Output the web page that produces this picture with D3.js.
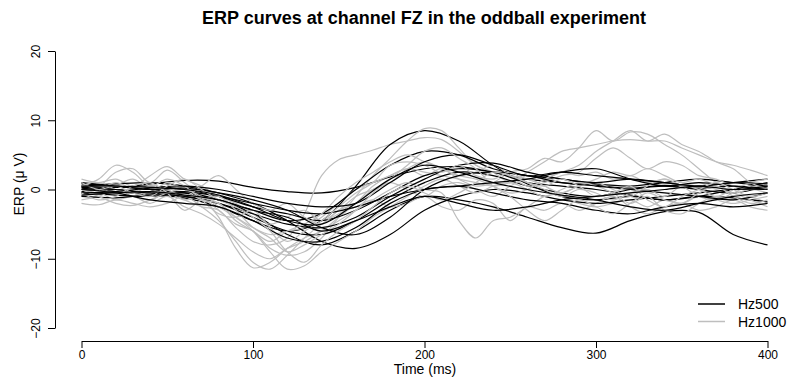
<!DOCTYPE html>
<html><head><meta charset="utf-8">
<script src="https://cdn.jsdelivr.net/npm/d3@7/dist/d3.min.js"></script>
<style>body{margin:0;background:#fff}svg{display:block;font-family:"Liberation Sans",Arial,sans-serif}</style>
</head><body><svg id="c" width="788" height="378"></svg>
<script>
const title = "ERP curves at channel FZ in the oddball experiment";
const xLabel = "Time (ms)";
const yLabel = "ERP (\u03bc V)";
const xTicks = [0,100,200,300,400];
const yTicks = [-20,-10,0,10,20];
const legendLabels = ["Hz500","Hz1000"];
const colors = ["#000000","#bebebe"];

// Hz500 curves sampled every 20 ms (0..400)
const timeHz500 = [0,20,40,60,80,100,120,140,160,180,200,220,240,260,280,300,320,340,360,380,400];
const hz500 = [
 [0.5,0.3,0.8,1.3,1.2,0.3,-0.3,-0.5,0.3,1.8,3.0,3.3,2.5,1.5,1.0,0.6,0.2,0.6,0.2,0.5,0.2],
 [0.2,-0.3,-0.8,-1.2,-2.5,-4.5,-6.0,-4.5,0.5,6.5,8.5,7.0,3.5,0.8,-1.0,-1.5,-1.0,-1.5,-1.0,-1.2,-1.8],
 [-0.5,-0.8,-1.0,-0.5,-1.5,-3.5,-6.5,-8.0,-6.0,-3.0,-1.0,-1.5,-2.5,-4.0,-5.5,-6.3,-4.5,-3.2,-3.3,-6.5,-8.0],
 [0.8,0.5,0.0,-0.5,-1.5,-3.0,-4.5,-3.5,0.0,3.5,5.5,5.0,3.0,2.0,1.5,0.8,0.5,1.0,1.5,1.0,0.5],
 [-0.3,0.0,-0.5,-1.0,-2.0,-4.0,-6.0,-6.5,-4.5,-1.5,1.0,2.5,2.0,0.5,-0.5,-1.0,0.0,0.5,0.0,-0.5,0.5],
 [0.0,0.3,0.5,0.0,-1.0,-2.5,-3.5,-4.5,-3.0,-0.5,2.0,3.0,2.5,1.0,0.5,0.0,-0.8,-1.5,-1.0,0.0,1.0],
 [0.5,0.8,1.0,0.5,-0.5,-2.0,-4.5,-7.5,-8.5,-6.5,-3.0,-1.0,0.0,-0.5,-1.5,-2.0,-1.5,-1.0,-0.5,0.0,0.0],
 [-1.0,-1.2,-0.8,-1.0,-2.0,-3.5,-5.0,-5.5,-4.0,-1.0,1.5,3.5,3.8,2.5,1.5,1.0,1.5,1.0,0.5,1.0,1.5],
 [0.3,0.0,-0.5,-0.3,-1.0,-2.0,-3.0,-3.5,-2.5,-1.0,0.0,0.5,-0.5,-1.5,-2.0,-3.0,-3.5,-2.5,-2.0,-2.5,-2.0],
 [1.0,0.5,0.0,0.2,-0.5,-1.5,-3.0,-5.5,-6.5,-4.0,0.0,2.0,2.5,2.0,1.0,0.5,0.0,-0.5,-1.0,-1.5,-0.5],
 [-0.5,-0.3,0.2,0.5,0.0,-1.0,-2.0,-2.5,-2.0,1.0,4.0,5.0,3.5,2.0,2.5,2.0,1.5,1.0,0.5,1.0,0.8],
 [0.0,-0.5,-1.5,-2.0,-2.5,-4.5,-7.0,-7.5,-5.5,-2.0,0.0,0.5,1.0,1.5,2.5,3.0,1.5,0.5,1.0,0.5,0.0],
 [0.5,0.5,0.3,0.0,-0.8,-2.5,-4.5,-5.0,-2.0,1.5,3.5,2.5,1.0,0.0,-0.8,-1.5,-2.5,-3.0,-2.0,-1.0,-0.5],
 [-0.8,-0.5,-0.3,-0.8,-1.5,-3.0,-4.0,-6.0,-4.5,-2.5,-1.0,-2.0,-3.0,-2.5,-1.5,-1.0,-0.5,0.0,0.5,0.0,0.5]
];

// Hz1000 curves sampled every 10 ms (0..400)
const timeHz1000 = [0,10,20,30,40,50,60,70,80,90,100,110,120,130,140,150,160,170,180,190,200,210,220,230,240,250,260,270,280,290,300,310,320,330,340,350,360,370,380,390,400];
const hz1000 = [
 [1.0,0.5,2.5,3.0,1.0,2.8,1.0,-1.0,-4.0,-8.5,-11.3,-10.5,-8.5,-7.0,-6.0,-4.0,-2.0,0.5,2.0,3.0,2.0,3.0,1.5,0.5,1.0,2.5,3.0,4.5,4.0,6.0,8.5,7.0,8.3,8.0,6.5,5.0,3.0,1.0,-0.5,-1.0,-2.0],
 [-1.5,-1.0,0.0,-1.0,-1.5,-0.5,-1.5,-2.5,-3.0,-5.5,-7.5,-8.0,-7.0,-3.5,2.0,4.3,5.0,5.7,6.5,7.0,7.5,7.2,5.5,3.5,2.5,2.0,1.5,0.5,-1.0,-2.0,-2.5,-2.0,-1.5,-2.5,-1.5,-2.0,-1.0,-1.5,-2.0,-1.5,-1.0],
 [0.0,-0.5,0.5,1.5,0.0,-0.5,0.5,-1.0,-3.0,-5.0,-6.0,-8.5,-9.5,-9.0,-7.0,-4.0,-1.0,2.0,4.5,7.0,8.8,8.5,6.0,3.5,2.5,1.0,2.0,1.5,2.5,2.0,2.5,1.5,2.0,1.0,1.5,0.5,1.0,0.0,-0.5,-1.5,-2.5],
 [0.5,0.0,-0.5,0.0,-1.0,-0.5,-1.5,-1.0,-2.5,-4.0,-5.5,-6.5,-6.0,-5.5,-4.0,-2.0,0.0,1.0,2.0,3.0,2.5,2.0,1.5,1.0,0.5,1.0,2.5,4.0,5.5,6.0,6.5,7.0,7.2,7.0,7.0,6.0,5.0,4.0,3.5,2.8,2.0],
 [-2.0,-2.2,-1.5,-2.0,-2.5,-2.0,-1.0,-2.5,-4.5,-7.5,-10.5,-11.5,-9.5,-7.0,-5.0,-3.5,-2.5,-1.5,-2.5,-2.0,-1.0,-2.5,-3.0,-1.5,-2.0,-4.5,-2.5,-3.0,-2.0,-3.0,-2.0,-1.0,-2.5,-3.5,-2.5,-2.0,-3.0,-2.5,-1.5,-2.5,-3.0],
 [1.5,1.0,1.5,0.5,2.0,3.3,1.5,0.5,-1.0,-2.0,-3.5,-5.0,-4.0,-3.0,-4.5,-3.0,-1.0,0.0,1.0,3.0,4.0,3.0,2.0,2.5,3.5,2.0,0.5,1.0,2.0,2.5,4.5,6.0,4.5,3.0,4.0,3.5,2.0,1.5,0.5,0.0,0.5],
 [-1.0,-0.5,-1.5,-1.0,-2.0,-1.0,-2.5,-3.5,-5.0,-7.0,-9.0,-10.0,-8.5,-7.5,-6.0,-4.5,-3.0,-1.5,0.0,1.0,0.0,-0.5,-4.5,-7.0,-4.5,-4.0,-2.5,-1.0,-0.5,0.5,1.5,2.5,2.0,3.0,2.0,1.0,1.5,0.5,-0.5,0.0,-0.5],
 [0.5,1.0,0.0,-0.5,0.5,0.0,-1.0,0.5,2.0,0.0,-2.0,-3.0,-2.0,-4.0,-5.0,-3.0,-2.0,0.0,1.0,0.0,-1.0,0.5,1.0,0.0,-1.0,0.5,1.5,0.5,-0.5,0.5,1.0,0.0,-1.0,0.5,1.5,0.5,-1.0,-1.5,-0.5,0.5,0.0],
 [-0.5,0.0,1.0,0.0,-0.5,1.0,0.0,-1.5,-2.0,-4.0,-6.0,-9.0,-11.5,-11.0,-9.0,-7.5,-6.0,-4.0,-2.5,-1.0,0.5,1.5,0.5,-0.5,0.5,1.0,0.0,-1.0,0.0,1.0,0.5,-0.5,-2.0,-1.0,-3.0,-3.5,-2.0,-1.0,-1.5,-1.0,-0.5],
 [0.0,-1.0,-2.0,-2.3,-1.5,-0.5,0.0,-1.0,-2.0,-4.5,-6.0,-7.5,-6.0,-5.0,-3.5,-1.0,1.0,2.5,4.0,5.0,4.0,3.0,2.0,1.5,0.5,-0.5,0.0,1.5,2.5,3.5,5.5,7.0,8.5,7.0,8.0,6.5,5.5,4.0,3.0,1.0,0.0],
 [0.5,1.5,3.5,2.5,0.5,1.5,0.5,-1.5,-3.5,-4.0,-3.0,-5.5,-7.5,-6.0,-4.5,-2.5,-0.5,1.0,3.5,4.0,3.5,2.5,3.5,2.0,1.5,2.5,1.0,0.0,-1.0,0.0,-0.5,-1.5,-0.5,0.0,-1.0,0.5,0.0,-1.0,0.0,1.0,1.5],
 [-0.5,-1.5,-1.0,0.5,1.0,-0.5,-3.0,-1.5,-1.0,-3.0,-5.5,-7.0,-9.0,-8.0,-6.5,-5.0,-3.0,-0.5,1.5,3.5,5.5,6.0,4.5,3.0,0.5,-1.0,-3.0,-4.5,-3.0,-1.5,-2.5,-3.5,-2.0,-0.5,-1.5,-2.0,-0.5,0.5,-1.0,-2.0,-1.5],
 [1.0,0.0,0.5,-0.5,-1.0,0.5,1.5,0.0,-1.5,-2.5,-4.0,-6.0,-9.0,-10.5,-8.0,-6.0,-4.5,-2.5,-0.5,0.5,-0.5,-1.5,-0.5,1.0,2.5,2.0,1.0,0.5,1.5,0.5,-1.0,-0.5,0.5,-1.5,-2.5,-1.0,0.0,1.0,0.0,-1.0,-0.5]
];

const svg = d3.select("#c");
const x = d3.scaleLinear().domain([0,400]).range([81.5,767.5]);
const y = d3.scaleLinear().domain([-20,20]).range([328,51]);

// Title
svg.append("text").attr("x",424).attr("y",24).attr("text-anchor","middle")
  .attr("font-size","18px").attr("font-weight","bold").text(title);

// Axes
const xAxis = d3.axisBottom(x).tickValues(xTicks).tickSize(7).tickPadding(2).tickSizeOuter(0);
const gx = svg.append("g").attr("transform","translate(0,341)").call(xAxis);
gx.selectAll("text").attr("font-size","12px").attr("fill","#000").attr("font-family","Liberation Sans, Arial, sans-serif");
gx.select(".domain").attr("stroke","#000");
gx.selectAll(".tick line").attr("stroke","#000");

const yAxis = d3.axisLeft(y).tickValues(yTicks).tickSize(7).tickSizeOuter(0).tickFormat(d3.format("d"));
const gy = svg.append("g").attr("transform","translate(55,0)").call(yAxis);
gy.selectAll("text").attr("font-size","12px").attr("fill","#000").attr("font-family","Liberation Sans, Arial, sans-serif")
  .attr("x",null).attr("dy",null).attr("text-anchor","middle")
  .attr("transform","translate(-19,0) rotate(-90)").attr("y",4);
gy.select(".domain").attr("stroke","#000");
gy.selectAll(".tick line").attr("stroke","#000");

svg.append("text").attr("x",425).attr("y",374).attr("text-anchor","middle").attr("font-size","14px").text(xLabel);
svg.append("text").attr("transform","translate(24,184) rotate(-90)").attr("text-anchor","middle").attr("font-size","14px").text(yLabel);

// Curves
const line = (times) => d3.line().x((d,i)=>x(times[i])).y(d=>y(d)).curve(d3.curveCatmullRom.alpha(0.5));
const plot = svg.append("g").attr("fill","none").attr("stroke-width",1.2);
const n = Math.max(hz500.length, hz1000.length);
for (let i=0;i<n;i++){
  if (i<hz1000.length) plot.append("path").attr("d",line(timeHz1000)(hz1000[i])).attr("stroke",colors[1]);
  if (i<hz500.length) plot.append("path").attr("d",line(timeHz500)(hz500[i])).attr("stroke",colors[0]);
}

// Legend
const lg = svg.append("g");
legendLabels.forEach((lab,i)=>{
  const yy = 304 + i*17.5;
  lg.append("line").attr("x1",698).attr("x2",725).attr("y1",yy).attr("y2",yy).attr("stroke",colors[i]).attr("stroke-width",1.5);
  lg.append("text").attr("x",738).attr("y",yy+5).attr("font-size","14px").text(lab);
});
</script>
</body></html>
